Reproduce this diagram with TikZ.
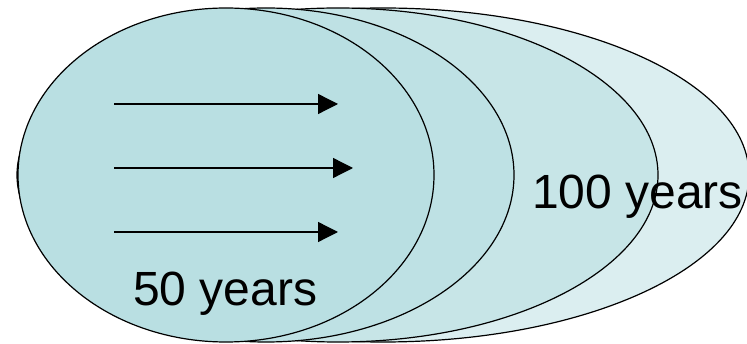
\documentclass[tikz,border=0pt]{standalone}
\usepackage{fontspec}
\setmainfont{Liberation Sans}
\usetikzlibrary{shapes.geometric,arrows.meta}
\definecolor{eA}{HTML}{B9DFE2}
\definecolor{eB}{HTML}{BEE1E4}
\definecolor{eC}{HTML}{C7E5E7}
\definecolor{eD}{HTML}{DBEEF0}
\tikzset{
  ring/.style={ellipse, draw=black, line width=1.2pt, inner sep=0pt},
  flow/.style={line width=1.3pt, -{Triangle[length=20pt,width=20pt]}},
  lbl/.style={inner sep=0pt, anchor=base west, font=\fontsize{48}{52}\selectfont}
}
\begin{document}
\begin{tikzpicture}[x=1pt,y=-1pt]
\useasboundingbox (0,0) rectangle (747,344);
\node[ring, fill=eD, minimum width=732pt, minimum height=334pt] (e4) at (383,175) {};
\node[ring, fill=eC, minimum width=640pt, minimum height=334pt] (e3) at (338,175) {};
\node[ring, fill=eB, minimum width=496pt, minimum height=334pt] (e2) at (266,175) {};
\node[ring, fill=eA, minimum width=416pt, minimum height=334pt] (e1) at (226,175) {};
\coordinate (a1s) at (114,104); \coordinate (a1e) at (338,104);
\coordinate (a2s) at (114,168); \coordinate (a2e) at (353,168);
\coordinate (a3s) at (114,232); \coordinate (a3e) at (338,232);
\draw[flow] (a1s) -- (a1e);
\draw[flow] (a2s) -- (a2e);
\draw[flow] (a3s) -- (a3e);
\node[lbl] (t50) at (133,306) {50 years};
\node[lbl] (t100) at (532,209) {100 years};
\end{tikzpicture}
\end{document}
